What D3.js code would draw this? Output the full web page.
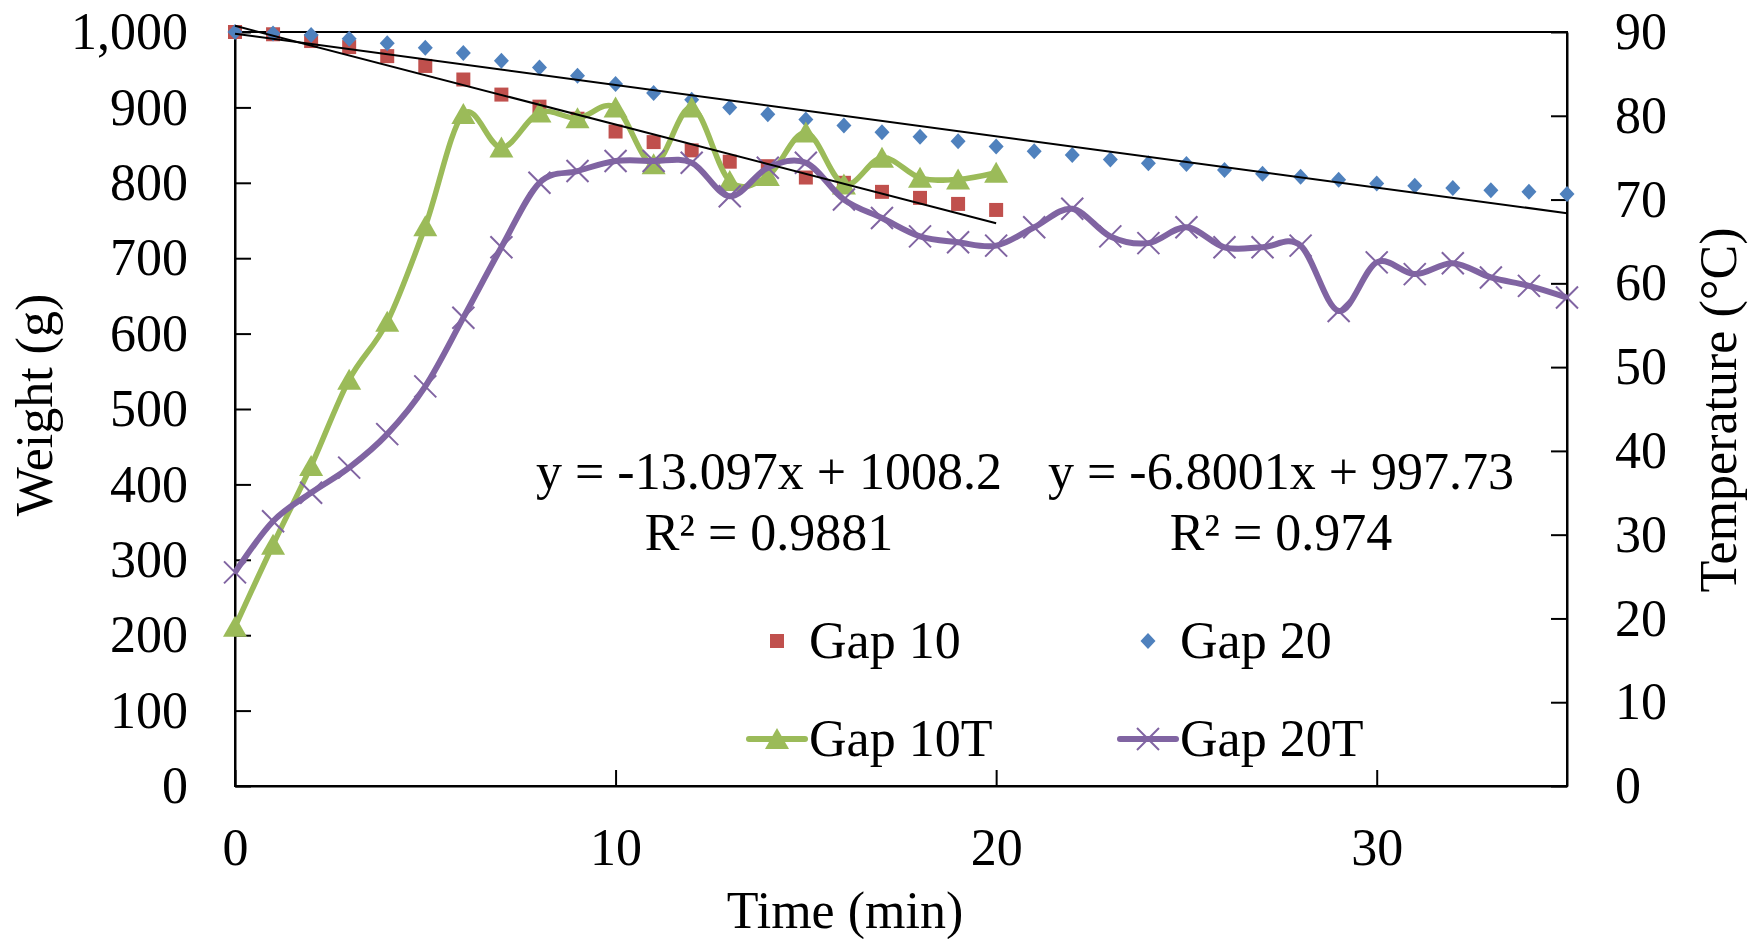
<!DOCTYPE html>
<html>
<head>
<meta charset="utf-8">
<style>
    body { margin: 0; background: #fff; }
    svg, svg text { font-family: 'Liberation Serif', 'Times New Roman', serif; }
    .axis .domain { stroke: #000; stroke-width: 2px; }
    .axis .tick line { stroke: #000; stroke-width: 2px; }
    .axis .tick text { font-size: 52px; fill: #000; font-family: 'Liberation Serif', 'Times New Roman', serif; }
    .title { font-size: 52px; }
    .legend text { font-size: 52px; }
    .eq { font-size: 52px; }
</style>
</head>
<body>
<svg width="1752" height="939"></svg>
<script src="https://d3js.org/d3.v7.min.js"></script>
<script>
    // minutes 0..35
    const minutes = [0, 1, 2, 3, 4, 5, 6, 7, 8, 9, 10, 11, 12, 13, 14, 15, 16, 17,
        18, 19, 20, 21, 22, 23, 24, 25, 26, 27, 28, 29, 30, 31, 32, 33, 34, 35];

    // weight (g), left axis
    const gap10 = [1000, 997, 988, 980, 968, 955, 937, 917, 901, 885, 868, 854, 843,
        828, 822, 807, 800, 788, 780, 772, 764];
    const gap20 = [1000, 998, 996, 991, 985, 979, 972, 962, 953, 942, 931, 919, 910,
        900, 891, 884, 876, 867, 861, 855, 848, 842, 837, 831, 826, 825, 817, 812,
        808, 804, 799, 796, 793, 790, 788, 785];

    // temperature (C), right axis
    const gap10T = [19, 28.8, 38.2, 48.5, 55.4, 66.8, 80.2, 76.2, 80.4, 79.7, 81, 74.2,
        81, 72.2, 72.8, 78, 71.8, 75, 72.6, 72.4, 73.2];
    const gap20T = [25.5, 31.6, 35, 38, 42, 47.7, 55.9, 64.3, 72, 73.4, 74.6, 74.6, 74.4,
        70.4, 73.8, 74.4, 70, 67.8, 65.6, 64.9, 64.5, 66.7, 68.9, 65.6, 64.8, 66.7,
        64.3, 64.3, 64.5, 56.7, 62.5, 61.1, 62.4, 60.7, 59.7, 58.3];

    // linear trendlines (Gap 10, Gap 20)
    const trendSlope = [-13.097, -6.8001];
    const trendIntercept = [1008.2, 997.73];
    const trendR2 = ["0.9881", "0.974"];
    const trendEnd = [20, 35];

    const xTicks = [0, 10, 20, 30];
    const weightTicks = [0, 100, 200, 300, 400, 500, 600, 700, 800, 900, 1000];
    const tempTicks = [0, 10, 20, 30, 40, 50, 60, 70, 80, 90];

    const red = "#C0504D", blue = "#4F81BD", green = "#9BBB59", purple = "#8064A2";

    let svg = d3.select("svg");

    let plotLeft = 235, plotRight = 1567, plotTop = 32, plotBottom = 786;

    let x = d3.scaleLinear().domain([0, 35]).range([plotLeft, plotRight]);
    let yW = d3.scaleLinear().domain([0, 1000]).range([plotBottom, plotTop]);
    let yT = d3.scaleLinear().domain([0, 90]).range([plotBottom, plotTop]);

    // marker shapes
    let square = "M-7,-7h14v14h-14Z";
    let diamond = "M0,-8L7.5,0L0,8L-7.5,0Z";
    let triangle = "M0,-11L12,10H-12Z";
    let cross = "M-11,-11L11,11M-11,11L11,-11";

    // plot frame
    svg.append("rect")
        .attr("x", plotLeft).attr("y", plotTop)
        .attr("width", plotRight - plotLeft).attr("height", plotBottom - plotTop)
        .attr("fill", "none").attr("stroke", "#000").attr("stroke-width", 2);

    svg.append("g")
        .attr("class", "axis")
        .attr("transform", `translate(${plotLeft},0)`)
        .call(d3.axisLeft(yW).tickValues(weightTicks).tickSizeInner(-16).tickSizeOuter(0)
            .tickPadding(47).tickFormat(d3.format(",")));

    svg.append("g")
        .attr("class", "axis")
        .attr("transform", `translate(${plotRight},0)`)
        .call(d3.axisRight(yT).tickValues(tempTicks).tickSizeInner(-16).tickSizeOuter(0)
            .tickPadding(48));

    svg.append("g")
        .attr("class", "axis")
        .attr("transform", `translate(0,${plotBottom})`)
        .call(d3.axisBottom(x).tickValues(xTicks).tickSizeInner(-16).tickSizeOuter(0)
            .tickPadding(42));

    // scatter series
    svg.append("g").selectAll("path")
        .data(gap10)
        .join("path")
        .attr("d", square)
        .attr("fill", red)
        .attr("transform", (d, i) => `translate(${x(minutes[i])},${yW(d)})`);

    svg.append("g").selectAll("path")
        .data(gap20)
        .join("path")
        .attr("d", diamond)
        .attr("fill", blue)
        .attr("transform", (d, i) => `translate(${x(minutes[i])},${yW(d)})`);

    // temperature lines (smoothed)
    let tempLine = d3.line()
        .x((d, i) => x(minutes[i]))
        .y(d => yT(d))
        .curve(d3.curveCardinal);

    svg.append("path")
        .attr("d", tempLine(gap10T))
        .attr("fill", "none").attr("stroke", green).attr("stroke-width", 5.5);

    svg.append("g").selectAll("path")
        .data(gap10T)
        .join("path")
        .attr("d", triangle)
        .attr("fill", green)
        .attr("transform", (d, i) => `translate(${x(minutes[i])},${yT(d)})`);

    svg.append("path")
        .attr("d", tempLine(gap20T))
        .attr("fill", "none").attr("stroke", purple).attr("stroke-width", 6);

    svg.append("g").selectAll("path")
        .data(gap20T)
        .join("path")
        .attr("d", cross)
        .attr("fill", "none").attr("stroke", purple).attr("stroke-width", 2)
        .attr("transform", (d, i) => `translate(${x(minutes[i])},${yT(d)})`);

    // trendlines
    svg.append("g").selectAll("line")
        .data(trendSlope)
        .join("line")
        .attr("x1", x(0))
        .attr("y1", (d, i) => yW(trendIntercept[i]))
        .attr("x2", (d, i) => x(trendEnd[i]))
        .attr("y2", (d, i) => yW(d * trendEnd[i] + trendIntercept[i]))
        .attr("stroke", "#000").attr("stroke-width", 2);

    // trendline equations
    let eqX = [769, 1281];
    trendSlope.forEach((s, i) => {
        let t = svg.append("text").attr("class", "eq").attr("text-anchor", "middle");
        t.append("tspan").attr("x", eqX[i]).attr("y", 489)
            .text(`y = ${s}x + ${trendIntercept[i]}`);
        t.append("tspan").attr("x", eqX[i]).attr("y", 550)
            .text(`R² = ${trendR2[i]}`);
    });

    // axis titles
    svg.append("text").attr("class", "title")
        .attr("text-anchor", "middle")
        .attr("x", 845).attr("y", 928)
        .text("Time (min)");

    svg.append("text").attr("class", "title")
        .attr("text-anchor", "middle")
        .attr("transform", "translate(52,405) rotate(-90)")
        .text("Weight (g)");

    svg.append("text").attr("class", "title")
        .attr("text-anchor", "middle")
        .attr("transform", "translate(1736,410) rotate(-90)")
        .text("Temperature (°C)");

    // legend
    let legendNames = ["Gap 10", "Gap 20", "Gap 10T", "Gap 20T"];
    let legendColors = [red, blue, green, purple];
    let legendShapes = [square, diamond, triangle, cross];
    let legendLine = [false, false, true, true];
    let colX = [777, 1148], rowY = [641, 739];

    let legend = svg.append("g").attr("class", "legend");
    legendNames.forEach((name, i) => {
        let cx = colX[i % 2], cy = rowY[Math.floor(i / 2)];
        let g = legend.append("g").attr("transform", `translate(${cx},${cy})`);
        if (legendLine[i]) {
            g.append("line").attr("x1", -28).attr("x2", 28)
                .attr("stroke", legendColors[i]).attr("stroke-width", 6)
                .attr("stroke-linecap", "round");
        }
        let isCross = legendShapes[i] === cross;
        g.append("path").attr("d", legendShapes[i])
            .attr("fill", isCross ? "none" : legendColors[i])
            .attr("stroke", isCross ? legendColors[i] : "none")
            .attr("stroke-width", 2);
        g.append("text").attr("x", 32).attr("y", 17).text(name);
    });
</script>
</body>
</html>
